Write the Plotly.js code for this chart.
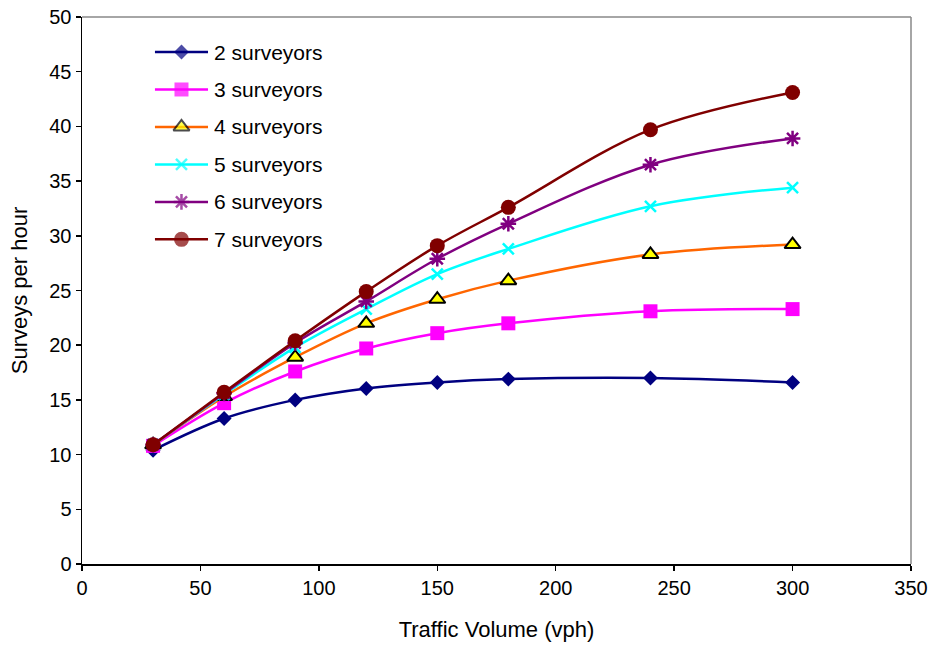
<!DOCTYPE html>
<html>
<head>
<meta charset="utf-8">
<script src="https://cdn.plot.ly/plotly-3.0.1.min.js"></script>
<style>
  html, body { margin: 0; padding: 0; background: #fff; }
  #chart { width: 930px; height: 645px; }
</style>
</head>
<body>
<div id="chart"></div>
<script>
// Traffic volume (vph) at which survey throughput was measured
const trafficVolume = [30, 60, 90, 120, 150, 180, 240, 300];

// Surveys per hour for each crew size
const surveyors2 = [10.4, 13.3, 15.0, 16.05, 16.6, 16.9, 17.0, 16.6];
const surveyors3 = [10.8, 14.7, 17.6, 19.7, 21.1, 22.0, 23.1, 23.3];
const surveyors4 = [10.9, 15.3, 18.9, 22.0, 24.2, 25.9, 28.3, 29.2];
const surveyors5 = [10.9, 15.5, 19.8, 23.3, 26.5, 28.8, 32.7, 34.4];
const surveyors6 = [10.9, 15.6, 20.2, 24.0, 27.9, 31.1, 36.5, 38.9];
const surveyors7 = [10.9, 15.7, 20.4, 24.9, 29.1, 32.6, 39.7, 43.1];

const seriesNames = ['2 surveyors', '3 surveyors', '4 surveyors', '5 surveyors', '6 surveyors', '7 surveyors'];
const seriesValues = [surveyors2, surveyors3, surveyors4, surveyors5, surveyors6, surveyors7];

const xTicks = [0, 50, 100, 150, 200, 250, 300, 350];
const yTicks = [0, 5, 10, 15, 20, 25, 30, 35, 40, 45, 50];

// Line colour and marker style per series
const styles = [
  { color: '#000080', marker: { symbol: 'diamond', size: 11.5, color: '#000080', line: { width: 0 } } },
  { color: '#FF00FF', marker: { symbol: 'square', size: 14, color: '#FF00FF', line: { width: 0 } } },
  { color: '#FF6600', marker: { symbol: 'triangle-up', size: 14, color: '#FFFF00', line: { color: '#000000', width: 2 } } },
  { color: '#00FFFF', marker: { symbol: 'x-thin-open', size: 11, color: '#00FFFF', line: { color: '#00FFFF', width: 2.5 } } },
  { color: '#800080', marker: { symbol: 'asterisk-open', size: 13, color: '#800080', line: { color: '#800080', width: 2.5 } } },
  { color: '#800000', marker: { symbol: 'circle', size: 15, color: '#800000', line: { width: 0 } } }
];

const FONT = 'Arial, "Liberation Sans", sans-serif';
const traces = [];
const annotations = [];

seriesValues.forEach((vals, i) => {
  traces.push({
    type: 'scatter',
    mode: 'lines+markers',
    name: seriesNames[i],
    x: trafficVolume,
    y: vals,
    line: { color: styles[i].color, width: 2.5, shape: 'spline', smoothing: 1 },
    marker: styles[i].marker,
    showlegend: false,
    cliponaxis: false
  });
});

// Legend drawn inside the plot on an overlay axis spanning 0..1
const legX0 = 0.088, legX1 = 0.152, legTextX = 0.157;
const legTop = 0.936, legStep = 0.0685;
seriesNames.forEach((name, i) => {
  const yy = legTop - i * legStep;
  traces.push({
    type: 'scatter',
    mode: 'lines+markers',
    x: [legX0, (legX0 + legX1) / 2, legX1],
    y: [yy, yy, yy],
    xaxis: 'x2', yaxis: 'y2',
    line: { color: styles[i].color, width: 2.5 },
    marker: Object.assign({}, styles[i].marker, { size: [0, styles[i].marker.size, 0] }),
    showlegend: false,
    hoverinfo: 'skip',
    cliponaxis: false
  });
  annotations.push({
    xref: 'x2', yref: 'y2', x: legTextX, y: yy,
    text: name, showarrow: false, xanchor: 'left', yanchor: 'middle',
    font: { family: FONT, size: 21, color: '#000' }
  });
});

const layout = {
  width: 930, height: 645,
  margin: { l: 82, r: 19, t: 17, b: 81 },
  paper_bgcolor: '#fff', plot_bgcolor: '#fff',
  font: { family: FONT, size: 20, color: '#000' },
  showlegend: false,
  xaxis: {
    range: [0, 350], tickvals: xTicks, ticktext: xTicks.map(String),
    showgrid: false, zeroline: false,
    showline: true, linecolor: '#000', linewidth: 1.5,
    ticks: 'outside', ticklen: 5, tickcolor: '#000', tickwidth: 1.5,
    tickfont: { family: FONT, size: 20, color: '#000' },
    title: { text: 'Traffic Volume (vph)', font: { family: FONT, size: 22, color: '#000' }, standoff: 24 },
    fixedrange: true
  },
  yaxis: {
    range: [0, 50], tickvals: yTicks, ticktext: yTicks.map(String),
    showgrid: false, zeroline: false,
    showline: true, linecolor: '#000', linewidth: 1.5,
    ticks: 'outside', ticklen: 5, tickcolor: '#000', tickwidth: 1.5,
    tickfont: { family: FONT, size: 20, color: '#000' },
    title: { text: 'Surveys per hour', font: { family: FONT, size: 22, color: '#000' }, standoff: 15 },
    fixedrange: true
  },
  xaxis2: { overlaying: 'x', range: [0, 1], visible: false, fixedrange: true },
  yaxis2: { overlaying: 'y', range: [0, 1], visible: false, fixedrange: true },
  shapes: [
    { type: 'line', xref: 'paper', yref: 'paper', x0: 0, x1: 1, y0: 1, y1: 1, line: { color: '#888888', width: 1.5 } },
    { type: 'line', xref: 'paper', yref: 'paper', x0: 1, x1: 1, y0: 0, y1: 1, line: { color: '#888888', width: 1.5 } }
  ],
  annotations: annotations
};

Plotly.newPlot('chart', traces, layout, { displayModeBar: false, staticPlot: true });
</script>
</body>
</html>
